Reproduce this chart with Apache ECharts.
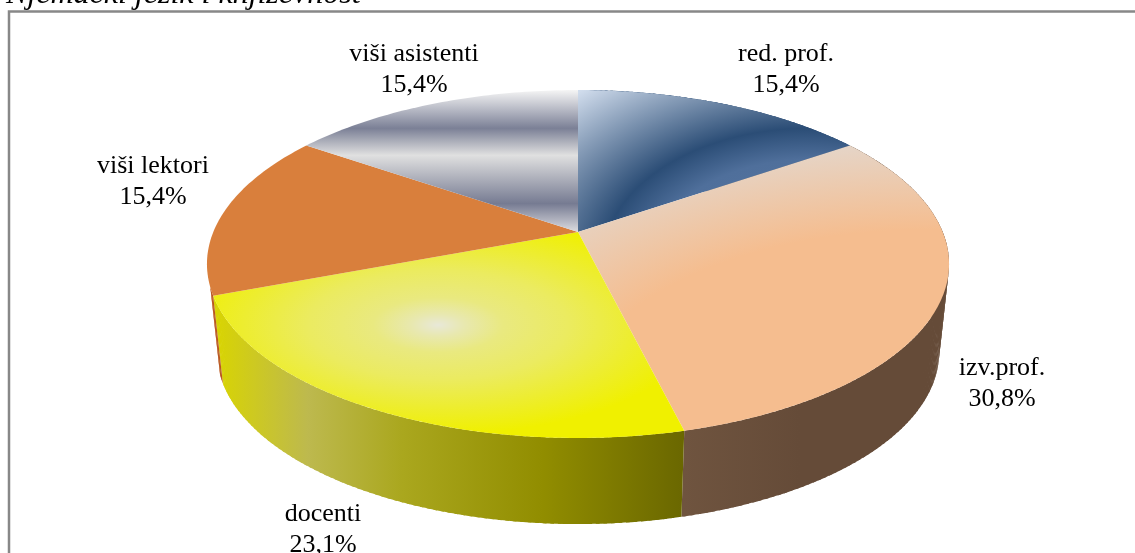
<!DOCTYPE html>
<html>
<head>
<meta charset="utf-8">
<style>
  html, body { margin: 0; padding: 0; background: #fff; }
  #chart { width: 1135px; height: 553px; }
</style>
<script src="https://cdn.jsdelivr.net/npm/echarts@6/dist/echarts.min.js"></script>
</head>
<body>
<div id="chart"></div>
<script>
const categories = ['red. prof.', 'izv.prof.', 'docenti', 'viši lektori', 'viši asistenti']
const shares = [15.4, 30.8, 23.1, 15.4, 15.4]
const titleText = 'Njemački jezik i književnost'

const total = shares.reduce((a, b) => a + b, 0)
const font = '"Liberation Serif", serif'

// tilted disc: a perspective map of the unit circle, top face and bottom face
const topFace = { cx: 578, cy: 232, a: 364.7, b: 168.1, k: 0.184 }
const bottomFace = { cx: 578, cy: 320.6, a: 355, b: 166, k: 0.184 }
// the wall disappears behind the rim past this angle on the left side
const wallEnd = 252

const labelCentres = [[786, 70], [1002, 384], [323, 530], [153, 182], [414, 70]]

function project(face, deg) {
    const t = deg * Math.PI / 180
    const u = Math.sin(t), v = -Math.cos(t)
    const d = 1 - face.k * v
    return [face.cx + face.a * u / d, face.cy + face.b * v / d]
}

function arc(face, from, to) {
    const pts = []
    const n = Math.max(2, Math.ceil(to - from))
    for (let i = 0; i <= n; i++) pts.push(project(face, from + (to - from) * i / n))
    return pts
}

function sliceAngles(index) {
    let before = 0
    for (let i = 0; i < index; i++) before += shares[i]
    return [before / total * 360, (before + shares[index]) / total * 360]
}

function radial(x, y, r, stops) {
    return { type: 'radial', x, y, r, global: true, colorStops: stops }
}
function linear(x, y, x2, y2, stops) {
    return { type: 'linear', x, y, x2, y2, global: true, colorStops: stops }
}
function stops(list) {
    return list.map(([offset, color]) => ({ offset, color }))
}

// sy squashes the face gradient into an ellipse around cy
const faceFills = [
    { sy: 0.638, cy: 260, fill: radial(810, 260, 350, stops([
        [0, '#5d7ba6'], [0.45, '#4f6f9b'], [0.59, '#2b4d76'], [1, '#d0dcec']])) },
    { sy: 0.487, cy: 400, fill: radial(930, 400, 530, stops([
        [0, '#f5bd8f'], [0.66, '#f5bd8f'], [1, '#e5d5c8']])) },
    { sy: 0.42, cy: 325, fill: radial(438, 325, 260, stops([
        [0, '#e8e8d8'], [0.1, '#e8e8b0'], [0.25, '#e9e980'], [0.5, '#ebeb60'], [0.75, '#eded30'], [1, '#f0f000']])) },
    { sy: 1, cy: 0, fill: '#d97f3c' },
    { sy: 1, cy: 0, fill: linear(0, 90, 0, 232, stops([
        [0, '#f5f5f5'], [0.27, '#7b8096'], [0.46, '#e0e0e0'], [0.8, '#767b92'], [1, '#dcdce0']])) }
]

const wallFills = [
    '#2b4d76',
    linear(684, 0, 800, 0, stops([[0, '#6f543f'], [1, '#654b38']])),
    linear(214, 0, 684, 0, stops([
        [0, '#d9d500'], [0.2, '#bdb94e'], [0.4, '#aaa71e'], [0.7, '#918d00'], [1, '#6a6700']])),
    '#b9571f',
    '#767b92'
]

// the wall is swept in thin strips so the silhouette closes between the two faces
function renderWall(params, api) {
    const i = params.dataIndex
    const [from, to] = sliceAngles(i)
    const children = []
    for (let a = from; a < Math.min(to, wallEnd); a += 1) {
        const b = Math.min(a + 1.5, to, wallEnd)
        children.push({
            type: 'polygon',
            shape: { points: arc(topFace, a, b).concat(arc(bottomFace, a, b).reverse()) },
            style: { fill: wallFills[i] }
        })
    }
    return { type: 'group', children }
}

function renderFace(params, api) {
    const i = params.dataIndex
    const [from, to] = sliceAngles(i)
    const { sy, cy, fill } = faceFills[i]
    const pts = [[topFace.cx, topFace.cy]].concat(arc(topFace, from, to))
        .map(([x, y]) => [x, cy + (y - cy) / sy])
    const [lx, ly] = labelCentres[i]
    return {
        type: 'group',
        children: [
            { type: 'polygon', originX: 0, originY: cy, scaleY: sy, shape: { points: pts }, style: { fill } },
            {
                type: 'text', x: lx, y: ly, z2: 10,
                style: {
                    text: categories[i] + '\n' + api.value(0).toFixed(1).replace('.', ',') + '%',
                    font: '26px ' + font, fill: '#000', align: 'center', verticalAlign: 'middle', lineHeight: 31
                }
            }
        ]
    }
}

const myChart = echarts.init(document.getElementById('chart'), null, { renderer: 'canvas' })
myChart.setOption({
    animation: false,
    backgroundColor: '#fff',
    graphic: [
        {
            type: 'rect', z: 0,
            shape: { x: 9, y: 11.5, width: 1200, height: 600 },
            style: { fill: '#fff', stroke: '#888', lineWidth: 2.5 }
        },
        {
            type: 'text', z: 0, x: 6, y: 11,
            style: { text: titleText, font: 'italic 32px ' + font, fill: '#000', verticalAlign: 'bottom' }
        }
    ],
    series: [
        { type: 'custom', coordinateSystem: 'none', z: 2, silent: true, renderItem: renderWall, data: shares.map(v => [v]) },
        { type: 'custom', coordinateSystem: 'none', z: 3, silent: true, renderItem: renderFace, data: shares.map(v => [v]) }
    ]
})
</script>
</body>
</html>
